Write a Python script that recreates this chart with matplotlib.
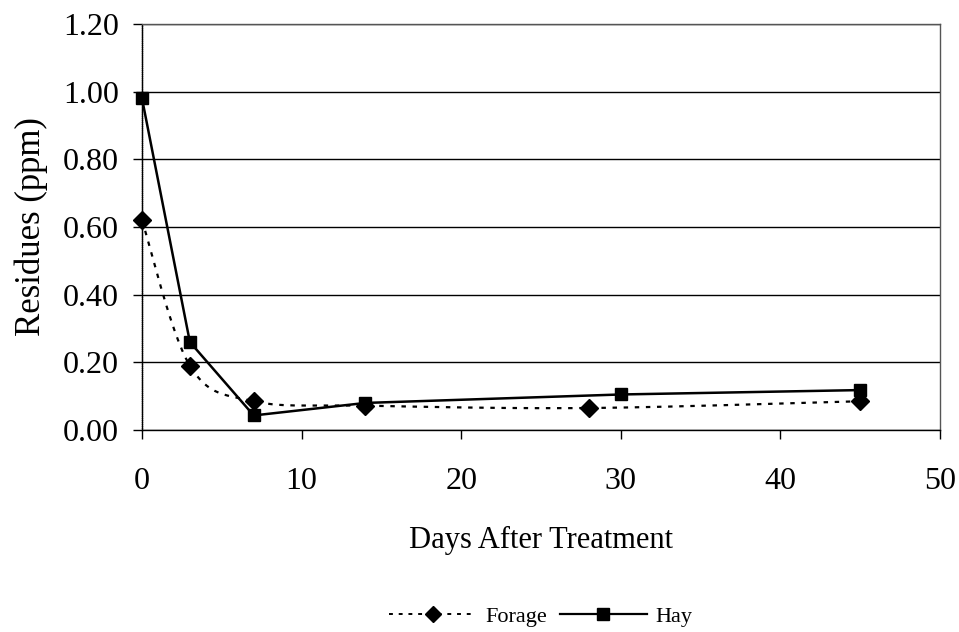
import numpy as np
import matplotlib
matplotlib.use("Agg")
import matplotlib.pyplot as plt
from matplotlib.lines import Line2D

forage_days = [0, 3, 7, 14, 28, 45]
forage_vals = [0.62, 0.19, 0.085, 0.072, 0.065, 0.085]
hay_days = [0, 3, 7, 14, 30, 45]
hay_vals = [0.98, 0.26, 0.043, 0.08, 0.105, 0.118]
x_ticks = [0, 10, 20, 30, 40, 50]
y_ticks = [0.0, 0.2, 0.4, 0.6, 0.8, 1.0, 1.2]

def smooth(xs, ys, n=30):
    # Excel-style smoothed line (Bezier with Catmull-Rom control points)
    xs = np.asarray(xs, float); ys = np.asarray(ys, float)
    P = np.column_stack([xs, ys])
    out = []
    for i in range(len(P) - 1):
        p0 = P[i - 1] if i > 0 else P[i]
        p1 = P[i]; p2 = P[i + 1]
        p3 = P[i + 2] if i + 2 < len(P) else P[i + 1]
        c1 = p1 + (p2 - p0) / 6.0
        c2 = p2 - (p3 - p1) / 6.0
        t = np.linspace(0, 1, n)[:, None]
        seg = ((1 - t) ** 3) * p1 + 3 * ((1 - t) ** 2) * t * c1 + 3 * (1 - t) * t ** 2 * c2 + t ** 3 * p2
        out.append(seg if i == 0 else seg[1:])
    S = np.vstack(out)
    return S[:, 0], S[:, 1]

plt.rcParams['font.family'] = ['Liberation Serif', 'DejaVu Serif']
fig = plt.figure(figsize=(9.59, 6.32), dpi=100)
ax = fig.add_axes([142/959, 1 - 430/632, (940-142)/959, (430-24)/632])

for y in y_ticks:
    ax.axhline(y, color='black', lw=1.0, zorder=1)

sx, sy = smooth(forage_days, forage_vals)
ax.plot(sx, sy, color='black', lw=1.6, ls=(0, (2, 3)), zorder=2)
ax.plot(forage_days, forage_vals, ls='none', marker='D', ms=9, color='black', zorder=3, clip_on=False)
ax.plot(hay_days, hay_vals, color='black', lw=1.8, marker='s', ms=9, zorder=3, clip_on=False)

ax.set_xlim(0, 50)
ax.set_ylim(0, 1.2)
ax.set_xticks(x_ticks)
ax.set_yticks(y_ticks)
ax.set_yticklabels([f"{v:.2f}" for v in y_ticks])
ax.tick_params(axis='both', labelsize=23, direction='out', length=6.5, width=1, color='black')
ax.tick_params(axis='x', pad=20)
ax.tick_params(axis='y', pad=10)
for s in ax.spines.values():
    s.set_color('#555555')
    s.set_linewidth(1.0)
    s.set_linestyle((0, (1, 1)))
ax.spines['bottom'].set_color('black')
ax.spines['bottom'].set_linestyle('-')
ax.spines['left'].set_color('black')
ax.spines['left'].set_linestyle((0, (1, 0.5)))

ax.set_xlabel('Days After Treatment', fontsize=22, labelpad=22)
ax.set_ylabel('Residues (ppm)', fontsize=25, labelpad=11)

h1 = Line2D([], [], color='black', lw=1.4, ls=(0, (2, 3)), marker='D', ms=8)
h2 = Line2D([], [], color='black', lw=1.6, marker='s', ms=8)
fig.legend([h1, h2], ['Forage', 'Hay'], loc='center', bbox_to_anchor=(541/959, 1 - 617/632),
           ncol=2, frameon=False, fontsize=16, handlelength=3.9, columnspacing=0.6, handletextpad=0.4)

fig.savefig('out.png', dpi=100)
